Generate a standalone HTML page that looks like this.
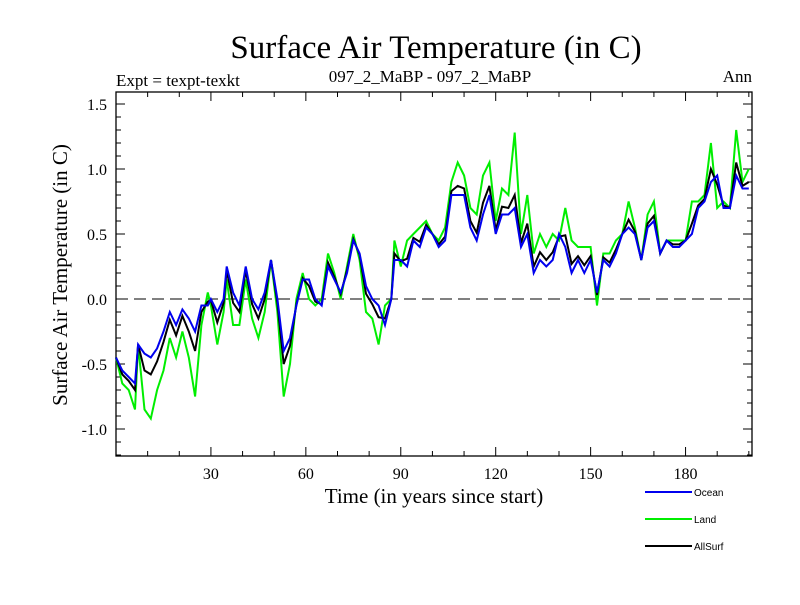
<!DOCTYPE html>
<html><head><meta charset="utf-8"><style>
body{margin:0;background:#fff}
svg text{font-family:"Liberation Serif",serif}
</style></head><body>
<svg id="c" width="800" height="600" xmlns="http://www.w3.org/2000/svg">
<text x="436" y="58" font-size="33" text-anchor="middle">Surface Air Temperature (in C)</text>
<text x="116" y="86" font-size="17">Expt = texpt-texkt</text>
<text x="430" y="82" font-size="17" text-anchor="middle">097_2_MaBP - 097_2_MaBP</text>
<text x="752" y="82" font-size="17" text-anchor="end">Ann</text>
<text x="434" y="503" font-size="21" text-anchor="middle">Time (in years since start)</text>
<text transform="translate(67,275) rotate(-90)" font-size="21" text-anchor="middle">Surface Air Temperature (in C)</text>
<g id="ax"></g><g id="lines"></g><g id="leg"></g>
</svg>
<script>
const years=[0,2,4,6,7,9,11,13,15,17,19,21,23,25,27,29,30,32,34,35,37,39,41,43,45,47,49,51,53,55,57,59,61,63,65,67,69,71,73,75,77,79,81,83,85,87,88,90,92,94,96,98,100,102,104,106,108,110,112,114,116,118,120,122,124,126,128,130,132,134,136,138,140,142,144,146,148,150,152,154,156,158,160,162,164,166,168,170,172,174,176,178,180,182,184,186,188,190,192,194,196,198,200];
const ocean=[-0.45,-0.55,-0.6,-0.65,-0.35,-0.42,-0.45,-0.38,-0.25,-0.1,-0.2,-0.08,-0.15,-0.25,-0.05,-0.05,0.0,-0.1,0.0,0.25,0.05,-0.05,0.25,0.0,-0.08,0.05,0.3,0.0,-0.4,-0.3,-0.05,0.15,0.15,0.0,-0.05,0.25,0.15,0.05,0.2,0.45,0.35,0.1,0.0,-0.05,-0.2,0.0,0.3,0.3,0.25,0.45,0.4,0.55,0.5,0.4,0.45,0.8,0.8,0.8,0.55,0.45,0.65,0.8,0.5,0.65,0.65,0.7,0.4,0.5,0.2,0.3,0.25,0.3,0.5,0.4,0.2,0.3,0.2,0.3,0.05,0.3,0.25,0.35,0.5,0.55,0.5,0.3,0.55,0.6,0.35,0.45,0.4,0.4,0.45,0.5,0.7,0.75,0.9,0.95,0.7,0.7,0.95,0.85,0.85];
const land=[-0.45,-0.65,-0.7,-0.85,-0.35,-0.85,-0.92,-0.7,-0.55,-0.3,-0.45,-0.25,-0.45,-0.75,-0.2,0.05,-0.05,-0.35,-0.1,0.15,-0.2,-0.2,0.15,-0.15,-0.3,-0.1,0.3,-0.1,-0.75,-0.5,0.0,0.2,0.0,-0.05,0.0,0.35,0.2,0.0,0.25,0.5,0.3,-0.1,-0.15,-0.35,-0.05,0.0,0.45,0.25,0.45,0.5,0.55,0.6,0.5,0.45,0.55,0.9,1.05,0.95,0.7,0.65,0.95,1.05,0.6,0.85,0.8,1.28,0.5,0.8,0.35,0.5,0.4,0.5,0.45,0.7,0.45,0.4,0.4,0.4,-0.05,0.35,0.35,0.45,0.5,0.75,0.55,0.3,0.65,0.75,0.35,0.45,0.45,0.45,0.45,0.75,0.75,0.8,1.2,0.7,0.75,0.7,1.3,0.9,1.0];
const allsurf=[-0.45,-0.58,-0.63,-0.7,-0.35,-0.55,-0.58,-0.48,-0.33,-0.16,-0.28,-0.13,-0.25,-0.4,-0.1,-0.02,-0.01,-0.18,-0.03,0.22,-0.03,-0.1,0.22,-0.04,-0.15,0.0,0.3,-0.03,-0.5,-0.36,-0.04,0.16,0.1,-0.02,-0.04,0.28,0.17,0.04,0.22,0.46,0.34,0.04,-0.04,-0.14,-0.15,0.0,0.35,0.29,0.31,0.47,0.44,0.57,0.5,0.42,0.48,0.83,0.87,0.85,0.6,0.51,0.74,0.87,0.53,0.71,0.7,0.8,0.43,0.58,0.25,0.36,0.3,0.36,0.48,0.49,0.27,0.33,0.26,0.33,0.03,0.32,0.28,0.38,0.5,0.61,0.52,0.3,0.58,0.64,0.35,0.45,0.42,0.42,0.45,0.58,0.72,0.77,1.0,0.88,0.72,0.7,1.05,0.87,0.9];
const yTicks=[-1.0,-0.5,0.0,0.5,1.0,1.5];
const yTickLabels=["-1.0","-0.5","0.0","0.5","1.0","1.5"];
const xTicks=[30,60,90,120,150,180];
const xTickLabels=["30","60","90","120","150","180"];
const L=116,R=752,T=92,B=456,X0=0,X1=201;
function sx(v){return L+(v-X0)/(X1-X0)*(R-L);}
function sy(v){return 299-v*130;}
const NS="http://www.w3.org/2000/svg";
function mk(tag,attrs,parent){const e=document.createElementNS(NS,tag);for(const k in attrs)e.setAttribute(k,attrs[k]);parent.appendChild(e);return e;}
const ax=document.getElementById('ax');
const frame=mk('rect',{x:L,y:T,width:R-L,height:B-T,fill:'none',stroke:'#000','stroke-width':1.3},ax);


const zl=mk('line',{x1:L,x2:R,y1:sy(0),y2:sy(0),stroke:'#000','stroke-dasharray':'12,6','stroke-width':1},ax);


for(let i=-12;i<=15;i++){const v=i/10;const y=sy(v);if(y<T||y>B)continue;const len=(i%5===0)?9:5;
mk('line',{x1:L,x2:L+len,y1:y,y2:y,stroke:'#000'},ax);mk('line',{x1:R,x2:R-len,y1:y,y2:y,stroke:'#000'},ax);}
for(let v=10;v<=200;v+=10){const x=sx(v);const len=(v%30===0)?9:5;
mk('line',{x1:x,x2:x,y1:B,y2:B-len,stroke:'#000'},ax);mk('line',{x1:x,x2:x,y1:T,y2:T+len,stroke:'#000'},ax);}
yTicks.forEach((v,i)=>{const t=mk('text',{x:L-9,y:sy(v)+6,'font-size':16,'text-anchor':'end'},ax);t.textContent=yTickLabels[i];

});
xTicks.forEach((v,i)=>{const t=mk('text',{x:sx(v),y:B+23,'font-size':16,'text-anchor':'middle'},ax);t.textContent=xTickLabels[i];

});
const lines=document.getElementById('lines');
function path(vals){return vals.map((v,i)=>(i?'L':'M')+sx(years[i]).toFixed(1)+','+sy(v).toFixed(1)).join(' ');}
const pl=mk('path',{d:path(land),fill:'none',stroke:'#00ee00','stroke-width':2},lines);


const pa=mk('path',{d:path(allsurf),fill:'none',stroke:'#000','stroke-width':2},lines);


const po=mk('path',{d:path(ocean),fill:'none',stroke:'#0000ee','stroke-width':2},lines);


const leg=document.getElementById('leg');
[["Ocean","#0000ee",492],["Land","#00ee00",519],["AllSurf","#000",546]].forEach(e=>{
const g=mk('g',{},leg);


mk('line',{x1:645,x2:692,y1:e[2],y2:e[2],stroke:e[1],'stroke-width':2},g);
const t=mk('text',{x:694,y:e[2]+4,'font-size':10,style:'font-family:"Liberation Sans",sans-serif'},g);t.textContent=e[0];});
</script>
</body></html>
